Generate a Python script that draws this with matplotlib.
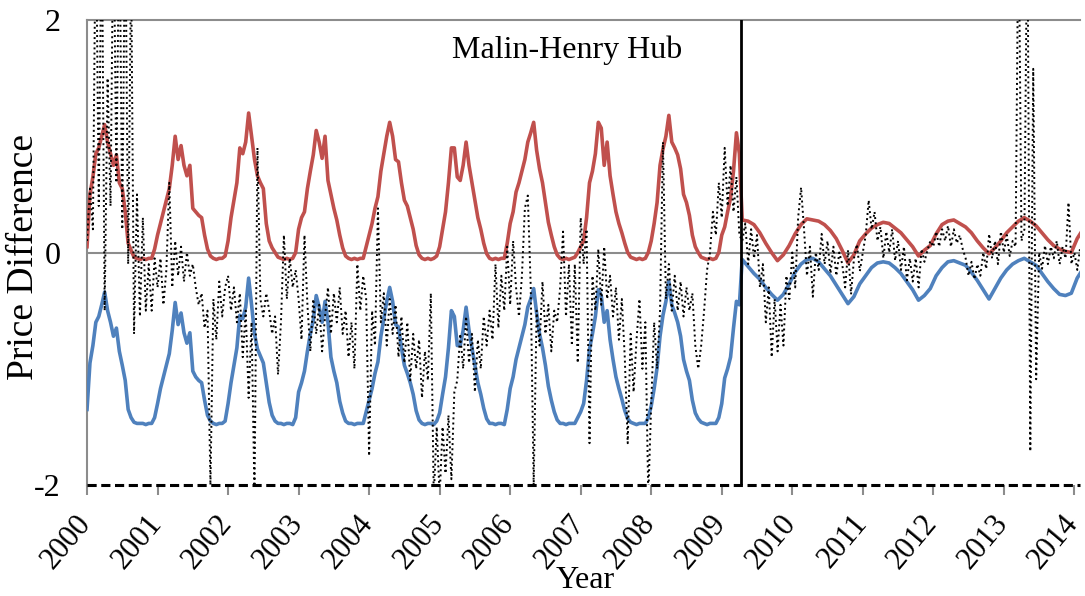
import numpy as np
import matplotlib
matplotlib.use('Agg')
import matplotlib.pyplot as plt
from matplotlib.transforms import ScaledTranslation, blended_transform_factory

# upper bound, twice a month, Jan 2000 .. Apr 2009
red_pre = [
    0.05, 0.5, 0.65, 0.85, 0.9, 1.0, 1.1, 0.95, 0.85, 0.75, 0.84, 0.6,
    0.55, 0.35, 0.08, 0.02, -0.04, -0.05, -0.06, -0.05, -0.06, -0.05, -0.05, 0.03,
    0.15, 0.25, 0.35, 0.45, 0.55, 0.75, 1.0, 0.8, 0.92, 0.75, 0.66, 0.75,
    0.38, 0.35, 0.32, 0.3, 0.15, 0.03, -0.03, -0.05, -0.06, -0.05, -0.05, -0.03,
    0.1, 0.3, 0.45, 0.6, 0.9, 0.85, 0.95, 1.2, 1.0, 0.8, 0.66, 0.6,
    0.55, 0.25, 0.1, 0.04, 0.0, -0.04, -0.05, -0.06, -0.05, -0.06, -0.05, 0.0,
    0.2, 0.3, 0.35, 0.55, 0.7, 0.84, 1.05, 0.95, 0.81, 1.0, 0.62, 0.5,
    0.38, 0.28, 0.15, 0.04, -0.03, -0.05, -0.06, -0.05, -0.06, -0.05, -0.05, 0.05,
    0.15, 0.25, 0.38, 0.48, 0.7, 0.85, 1.0, 1.12, 1.0, 0.8, 0.78, 0.6,
    0.45, 0.4, 0.3, 0.2, 0.06, -0.02, -0.05, -0.06, -0.05, -0.06, -0.05, -0.03,
    0.05, 0.2, 0.35, 0.6, 0.9, 0.9, 0.65, 0.62, 0.75, 0.95, 0.75, 0.6,
    0.45, 0.3, 0.2, 0.08, -0.01, -0.05, -0.06, -0.05, -0.06, -0.05, -0.05, 0.08,
    0.25, 0.35, 0.52, 0.6, 0.7, 0.8, 0.95, 1.03, 1.12, 0.88, 0.72, 0.6,
    0.43, 0.26, 0.15, 0.05, -0.02, -0.05, -0.06, -0.05, -0.06, -0.05, -0.04, 0.0,
    0.05, 0.1, 0.3, 0.6, 0.7, 0.85, 1.12, 1.07, 0.75, 0.95, 0.66, 0.5,
    0.35, 0.25, 0.17, 0.08, 0.0, -0.04, -0.05, -0.06, -0.05, -0.06, -0.05, 0.0,
    0.1, 0.25, 0.43, 0.75, 0.89, 1.0, 1.18, 0.95, 0.9, 0.84, 0.72, 0.5,
    0.43, 0.32, 0.15, 0.05, 0.0, -0.04, -0.05, -0.06, -0.05, -0.06, -0.05, 0.0,
    0.15, 0.22, 0.35, 0.47, 0.7, 1.03, 0.85,
]
# lower bound, same dates
blue_pre = [
    -1.35, -0.95, -0.8, -0.6, -0.55, -0.45, -0.34, -0.5, -0.6, -0.72, -0.65, -0.85,
    -0.97, -1.1, -1.35, -1.42, -1.46, -1.47, -1.47, -1.47, -1.48, -1.47, -1.47, -1.42,
    -1.3, -1.17, -1.07, -0.97, -0.87, -0.67, -0.43, -0.62, -0.52, -0.69, -0.78, -0.69,
    -1.02, -1.07, -1.1, -1.12, -1.27, -1.4, -1.45, -1.47, -1.48, -1.47, -1.47, -1.45,
    -1.3, -1.12, -0.97, -0.82, -0.54, -0.57, -0.47, -0.22, -0.45, -0.7, -0.83, -0.89,
    -0.95, -1.12, -1.29, -1.4, -1.45, -1.47, -1.47, -1.48, -1.47, -1.47, -1.48, -1.42,
    -1.2, -1.12, -1.02, -0.85, -0.7, -0.58, -0.37, -0.47, -0.6, -0.42, -0.6, -0.9,
    -1.02, -1.12, -1.28, -1.38, -1.45, -1.47, -1.47, -1.48, -1.47, -1.47, -1.47, -1.37,
    -1.27, -1.17, -1.04, -0.94, -0.72, -0.57, -0.42, -0.3, -0.42, -0.62, -0.64, -0.82,
    -0.97, -1.04, -1.12, -1.22, -1.36, -1.44, -1.47, -1.48, -1.47, -1.47, -1.48, -1.45,
    -1.38, -1.22, -1.07, -0.82, -0.5, -0.55, -0.8, -0.8, -0.67, -0.47, -0.67, -0.82,
    -0.97, -1.12, -1.22, -1.34, -1.43, -1.47, -1.47, -1.48, -1.47, -1.47, -1.48, -1.35,
    -1.17, -1.07, -0.92, -0.82, -0.72, -0.62, -0.47, -0.4, -0.31, -0.52, -0.7, -0.82,
    -0.97, -1.15, -1.27, -1.37, -1.44, -1.47, -1.47, -1.48, -1.47, -1.47, -1.47, -1.42,
    -1.37, -1.3, -1.1, -0.83, -0.7, -0.55, -0.32, -0.37, -0.6, -0.5, -0.75, -0.92,
    -1.07, -1.17, -1.26, -1.36, -1.43, -1.46, -1.47, -1.48, -1.47, -1.47, -1.47, -1.42,
    -1.32, -1.17, -0.99, -0.72, -0.54, -0.42, -0.25, -0.45, -0.52, -0.6, -0.72, -0.92,
    -1.02, -1.1, -1.27, -1.38, -1.43, -1.46, -1.47, -1.48, -1.47, -1.47, -1.47, -1.42,
    -1.3, -1.08, -1.0, -0.9, -0.65, -0.42, -0.45,
]

# monthly bounds after the April 2009 change, from mid-April 2009
red_post = [
    0.28, 0.27, 0.24, 0.17, 0.08, 0.0, -0.07, -0.02, 0.06, 0.16, 0.24, 0.29,
    0.28, 0.27, 0.24, 0.19, 0.12, 0.02, -0.09, -0.02, 0.1, 0.16, 0.21, 0.24,
    0.26, 0.25, 0.21, 0.17, 0.11, 0.05, -0.03, 0.02, 0.06, 0.16, 0.24, 0.27,
    0.28, 0.25, 0.22, 0.17, 0.1, 0.04, -0.01, 0.04, 0.1, 0.17, 0.22, 0.27,
    0.3, 0.27, 0.23, 0.17, 0.11, 0.06, 0.03, 0.01, 0.0, 0.12, 0.2,
]
blue_post = [
    -0.06, -0.12, -0.18, -0.23, -0.3, -0.36, -0.41, -0.36, -0.27, -0.17, -0.1, -0.06,
    -0.05, -0.08, -0.14, -0.2, -0.28, -0.36, -0.44, -0.38, -0.27, -0.2, -0.13, -0.09,
    -0.08, -0.09, -0.13, -0.18, -0.25, -0.32, -0.41, -0.37, -0.31, -0.2, -0.13, -0.08,
    -0.07, -0.09, -0.11, -0.17, -0.24, -0.32, -0.4, -0.31, -0.22, -0.15, -0.1, -0.07,
    -0.05, -0.08, -0.11, -0.18, -0.25, -0.31, -0.36, -0.37, -0.35, -0.22, -0.14,
]

# observed price difference, twice a month from Jan 2000
black = [
    # 2000
    0.1, 0.55, 0.2, 3.0, 0.4, 3.0, -0.5, 1.5, 0.4, 3.0, 0.6, 3.0,
    0.2, 3.0, -0.1, 2.5, -0.7, 0.5, -0.55, 0.3, -0.5, -0.1, -0.5, -0.05,
    # 2001
    -0.3, -0.05, -0.45, -0.15, 0.6, -0.3, 0.1, -0.2, 0.05, -0.25, 0.0, -0.2,
    -0.1, -0.3, -0.45, -0.35, -0.65, -0.5, -2.0, -0.4, -0.75, -0.25, -0.55, -0.3,
    # 2002
    -0.2, -0.5, -0.3, -0.6, -0.35, -0.9, -0.5, -1.25, -0.6, -2.1, 0.9, -0.4,
    -0.55, -0.35, -0.5, -0.7, -0.55, -1.05, -0.6, 0.15, -0.4, -0.05, -0.3, -0.15,
    # 2003
    -0.4, -0.75, 0.15, -0.45, -0.85, -0.4, -0.7, -0.45, -0.85, -0.55, -0.3, -0.7,
    -0.35, -0.6, -0.3, -0.7, -0.5, -0.9, -0.6, -1.0, -0.1, -0.5, -0.2, -0.4,
    # 2004
    -1.75, -0.5, -0.8, 0.38, -0.6, -0.35, -0.8, -0.4, -0.7, -0.45, -0.9, -0.55,
    -0.95, -0.6, -1.1, -0.7, -1.0, -0.75, -1.25, -0.85, -1.1, -0.35, -2.1, -1.5,
    # 2005
    -2.1, -1.5, -1.9, -1.4, -1.95, -1.2, -1.1, -0.7, -1.0, -0.55, -0.95, -0.7,
    -1.2, -0.75, -1.0, -0.55, -0.8, -0.5, -0.75, -0.1, -0.65, -0.2, -0.5, 0.05,
    # 2006
    -0.45, 0.1, -0.3, -0.55, -0.2, 0.38, 0.49, -0.3, -2.0, -0.5, -0.8, -0.25,
    -0.7, -0.45, -0.85, -0.5, -0.6, -0.3, 0.18, -0.55, -0.1, -0.8, -0.1, -0.95,
    # 2007
    0.3, -0.1, 0.2, -1.64, -0.2, -0.5, 0.03, -0.45, 0.05, -0.4, -0.2, -0.55,
    -0.3, -0.75, -0.4, -0.9, -1.64, -0.7, -1.2, -0.75, -0.4, -1.0, -0.6, -2.1,
    # 2008
    -1.3, -0.6, -1.0, -0.5, 0.95, -0.4, -0.1, -0.5, -0.2, -0.5, -0.25, -0.55,
    -0.3, -0.5, -0.35, -0.8, -1.0, -0.8, -0.5, -0.15, 0.0, 0.35, 0.15, 0.6,
    # 2009
    0.3, 0.9, 0.4, 0.75, 0.35, 0.65, 0.15, 0.1, 0.25, -0.1, 0.2, -0.05,
    0.15, -0.3, -0.1, -0.6, -0.3, -0.9, -0.4, -0.85, -0.45, -0.8, -0.2, -0.4,
    # 2010
    0.0, -0.3, 0.3, 0.56, 0.2, -0.2, 0.05, -0.38, 0.0, -0.15, 0.16, -0.1,
    0.1, -0.18, 0.05, -0.2, 0.0, -0.1, -0.3, 0.02, -0.36, -0.05, 0.07, -0.16,
    # 2011
    0.0, 0.15, 0.45, 0.2, 0.35, 0.1, 0.22, -0.05, 0.18, 0.0, 0.2, -0.07,
    0.1, -0.15, 0.05, -0.24, -0.05, -0.25, -0.05, -0.3, 0.03, -0.08, 0.02, 0.1,
    # 2012
    0.05, 0.18, 0.05, 0.2, 0.1, 0.23, 0.05, 0.2, 0.08, 0.15, 0.03, -0.05,
    -0.2, -0.08, -0.23, -0.1, -0.2, 0.0, -0.14, 0.16, -0.05, 0.1, -0.1, 0.18,
    # 2013
    0.0, 0.15, -0.03, 0.1, 0.05, 3.0, 0.1, 0.2, 3.0, -1.71, 1.58, -1.09,
    0.0, -0.14, 0.06, -0.1, 0.05, -0.05, 0.1, -0.1, 0.05, -0.05, 0.43, -0.1,
    # 2014
    0.0, -0.15, 0.05,
]

year_ticks = list(range(2000, 2015))
y_ticks = [-2, 0, 2]
change_year = 2009.27
title = 'Malin-Henry Hub'


def main():
    plt.rcParams['font.family'] = ['Liberation Serif', 'DejaVu Serif']
    fig = plt.figure(figsize=(10.85, 5.96), dpi=100)
    ax = fig.add_axes([0.0802, 0.1862, 0.9152, 0.7802])

    t_pre = 2000 + np.arange(len(red_pre)) / 24
    t_post = 2009.29 + np.arange(len(red_post)) / 12
    t_black = 2000 + np.arange(len(black)) / 24

    t_all = np.concatenate([t_pre, t_post])
    red_v = np.concatenate([red_pre, red_post])
    blue_v = np.concatenate([blue_pre, blue_post])

    ax.axhline(0, color='#8c8c8c', lw=1.5, zorder=1)
    ax.axhline(2, color='#8c8c8c', lw=1.5, zorder=1, clip_on=False)
    ax.plot(t_all, red_v, color='#C0504D', lw=2.6, zorder=3)
    ax.plot(t_all, blue_v, color='#4F81BD', lw=2.6, zorder=3)
    ax.plot(t_black, black, color='black', lw=1.4, ls=':', zorder=4)
    ax.axhline(-2, color='black', lw=2.2, ls=(0, (3, 1.5)), zorder=5, clip_on=False)
    ax.axvline(change_year, color='black', lw=2, zorder=5)

    ax.set_xlim(2000, 2014.08)
    ax.set_ylim(-2, 2)
    ax.set_xticks(year_ticks)
    ax.set_xticklabels([])
    ax.set_yticks(y_ticks)
    ax.set_yticklabels([str(v) for v in y_ticks])
    ax.tick_params(axis='x', length=7, width=1.5, color='#8c8c8c')
    ax.tick_params(axis='y', labelsize=23, length=0, pad=19)

    # rotated year labels, anchored a little left of and below each tick
    base = blended_transform_factory(ax.transData, ax.transAxes)
    shift = ScaledTranslation(-0.12, -0.24, fig.dpi_scale_trans)
    for yr in year_ticks:
        ax.text(yr, 0, str(yr), transform=base + shift, fontsize=22,
                rotation=50, rotation_mode='anchor', ha='right', va='top',
                clip_on=False)

    for side in ['top', 'right', 'bottom']:
        ax.spines[side].set_visible(False)
    ax.spines['left'].set_color('#8c8c8c')
    ax.spines['left'].set_linewidth(1.5)

    fig.text(24 / 1085, 1 - 257 / 596, 'Price Difference', fontsize=27,
             rotation=90, ha='center', va='center')
    fig.text(585 / 1085, 1 - 580 / 596, 'Year', fontsize=23,
             ha='center', va='center')
    ax.text(0.483, 0.935, title, transform=ax.transAxes, fontsize=23,
            ha='center', va='center')

    fig.savefig('out.png', dpi=100)


if __name__ == "__main__":
    main()
